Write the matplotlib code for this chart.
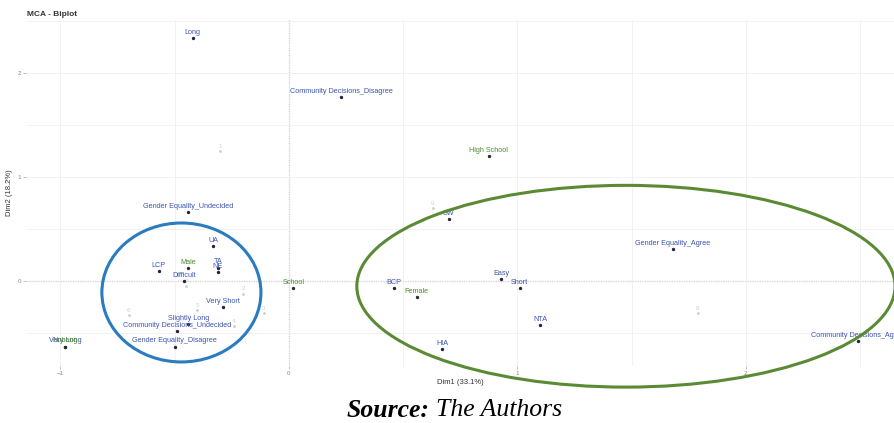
import numpy as np
import matplotlib.pyplot as plt
from matplotlib.patches import Ellipse

plt.rcParams['font.family'] = ['Liberation Sans', 'DejaVu Sans']

# variable categories (blue) - coordinates on Dim1 / Dim2
var_labels = ['Long', 'Community Decisions_Disagree', 'SW', 'Gender Equality_Undecided',
              'UA', 'TA', 'NE', 'LCP', 'Difficult', 'Very Short', 'Slightly Long',
              'Community Decisions_Undecided', 'Gender Equality_Disagree', 'Very Long',
              'BCP', 'Easy', 'Short', 'NTA', 'HIA', 'Gender Equality_Agree',
              'Community Decisions_Agree']
var_x = [-0.42, 0.23, 0.70, -0.44, -0.33, -0.31, -0.31, -0.57, -0.46, -0.29, -0.44,
         -0.49, -0.50, -0.98, 0.46, 0.93, 1.01, 1.10, 0.67, 1.68, 2.49]
var_y = [2.34, 1.77, 0.60, 0.66, 0.34, 0.13, 0.09, 0.10, 0.00, -0.25, -0.41,
         -0.48, -0.63, -0.63, -0.07, 0.02, -0.07, -0.42, -0.65, 0.31, -0.58]

# supplementary categories (green)
sup_labels = ['High School', 'Male', 'School', 'Female', 'Nobang']
sup_x = [0.875, -0.44, 0.02, 0.56, -0.98]
sup_y = [1.20, 0.125, -0.07, -0.155, -0.63]

# individuals (faint grey)
ind_labels = ['1', '2', '3', '4', '5', '6', '7', '8', '9']
ind_x = [-0.30, -0.20, -0.11, -0.24, -0.40, -0.70, -0.45, 1.79, 0.63]
ind_y = [1.25, -0.12, -0.31, -0.43, -0.28, -0.33, -0.05, -0.31, 0.70]

blue = '#3d55b0'
green = '#4e8a2c'

fig = plt.figure(figsize=(8.94, 4.23), dpi=100)
ax = fig.add_axes([26 / 894, 57 / 423, 868 / 894, 346 / 423])
ax.set_xlim(-1.15, 2.648)
ax.set_ylim(-0.817, 2.51)

ax.set_xticks([-1, 0, 1, 2])
ax.set_yticks([0, 1, 2])
ax.set_xticks(np.arange(-1.0, 2.6, 0.5), minor=True)
ax.set_yticks(np.arange(-0.5, 2.6, 0.5), minor=True)
ax.grid(True, which='both', color='#f0f0f0', lw=0.6)
ax.tick_params(which='major', labelsize=4.5, labelcolor='#888888', color='#aaaaaa',
               length=2, width=0.5, pad=1.5)
ax.tick_params(which='minor', length=0)
for s in ax.spines.values():
    s.set_visible(False)

ax.axhline(0, color='#555555', ls=(0, (1, 1.2)), lw=0.8, zorder=1)
ax.axvline(0, color='#555555', ls=(0, (1, 1.2)), lw=0.8, zorder=1)

# individuals
ax.scatter(ind_x, ind_y, s=1, color='#cfcfcf', zorder=2)
for lab, x, y in zip(ind_labels, ind_x, ind_y):
    ax.annotate(lab, (x, y), xytext=(0, 1.5), textcoords='offset points',
                ha='center', va='bottom', fontsize=4.5, color='#d0d0d0')

# categories
ax.scatter(var_x, var_y, s=2, color='#222244', zorder=3)
for lab, x, y in zip(var_labels, var_x, var_y):
    ax.annotate(lab, (x, y), xytext=(0, 1.5), textcoords='offset points',
                ha='center', va='bottom', fontsize=5.2, color=blue, zorder=4)

ax.scatter(sup_x, sup_y, s=2, color='#223322', zorder=3)
for lab, x, y in zip(sup_labels, sup_x, sup_y):
    ax.annotate(lab, (x, y), xytext=(0, 1.5), textcoords='offset points',
                ha='center', va='bottom', fontsize=5.2, color=green, zorder=4)

# cluster outlines
ax.add_patch(Ellipse((-0.47, -0.11), 0.696, 1.336, fill=False, ec='#2a7bbf',
                     lw=2.2, zorder=5, clip_on=False))
ax.add_patch(Ellipse((1.475, -0.05), 2.355, 1.94, fill=False, ec='#5b8a34',
                     lw=2.2, zorder=5, clip_on=False))

ax.set_xlabel('Dim1 (33.1%)', fontsize=5.5, color='#333333', labelpad=2)
ax.set_ylabel('Dim2 (18.2%)', fontsize=5.5, color='#333333', labelpad=3)
fig.text(27 / 894, 1 - 15 / 423, 'MCA - Biplot', fontsize=6, fontweight='bold',
         color='#333333', va='center')

fig.text(430 / 894, 1 - 410 / 423, 'Source:', ha='right', va='center',
         family='Liberation Serif', style='italic', weight='bold', fontsize=18.5)
fig.text(436 / 894, 1 - 410 / 423, 'The Authors', ha='left', va='center',
         family='Liberation Serif', style='italic', fontsize=18.5)

fig.savefig('out.png', dpi=100)
